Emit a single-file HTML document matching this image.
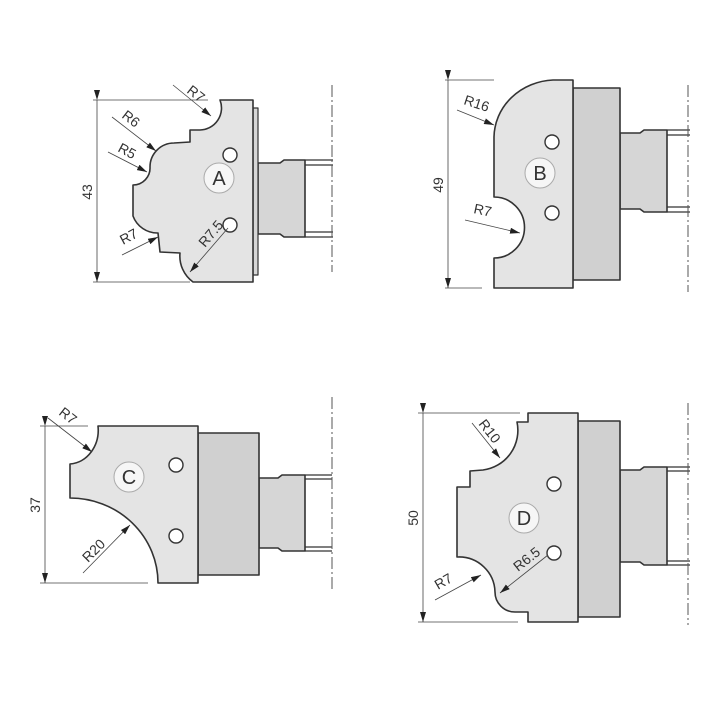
<!DOCTYPE html>
<html><head><meta charset="utf-8"><style>
html,body{margin:0;padding:0;background:#fff;}
svg{display:block;}
text{font-family:"Liberation Sans",sans-serif;font-size:14px;fill:#333;}
</style></head><body>
<svg width="720" height="720" viewBox="0 0 720 720" xmlns="http://www.w3.org/2000/svg">
<defs>
<marker id="ar" markerWidth="10" markerHeight="6" refX="10" refY="3" orient="auto" markerUnits="userSpaceOnUse">
<path d="M0,0 L10,3 L0,6 Z" fill="#222"/></marker>
</defs>
<g stroke="#333" stroke-width="1.6" stroke-linejoin="round">
<!-- A -->
<path d="M258,163 L280,163 L284,160 L305,160 L305,237 L284,237 L280,234 L258,234 Z" fill="#d6d6d6"/>
<rect x="253" y="108" width="5" height="167" fill="#d6d6d6" stroke-width="1.2"/>
<path d="M220,100 L253,100 L253,282 L193,282 A32,32 0 0 1 180,253 L160,252 L158,233 A26,26 0 0 1 133,216 L133,185 A17,17 0 0 0 150,167 A24,24 0 0 1 174,143 L190,142 L190,130 L200,130 A22,22 0 0 0 220,100 Z" fill="#e4e4e4"/>
<!-- B -->
<path d="M620,133 L640,133 L644,130 L667,130 L667,212 L644,212 L640,209 L620,209 Z" fill="#d6d6d6"/>
<rect x="573" y="88" width="47" height="192" fill="#d0d0d0"/>
<path d="M553,80 L573,80 L573,288 L494,288 L494,258 A30,30 0 0 0 494,197 L494,137 A62,58 0 0 1 553,80 Z" fill="#e4e4e4"/>
<!-- C -->
<path d="M259,478 L278,478 L282,475 L305,475 L305,551 L282,551 L278,548 L259,548 Z" fill="#d6d6d6"/>
<rect x="198" y="433" width="61" height="142" fill="#d0d0d0"/>
<path d="M98,426 L198,426 L198,583 L158,583 A88,85 0 0 0 70,498 L70,464 A30,34 0 0 0 98,426 Z" fill="#e4e4e4"/>
<!-- D -->
<path d="M620,470 L640,470 L644,467 L667,467 L667,565 L644,565 L640,562 L620,562 Z" fill="#d6d6d6"/>
<rect x="578" y="421" width="42" height="196" fill="#d0d0d0"/>
<path d="M528,413 L578,413 L578,622 L528,622 L528,612 L515,612 A20,20 0 0 1 495,592 A36,36 0 0 0 458,557 L457,557 L457,487 L470,487 L470,471 L483,470 A40,40 0 0 0 517,422 L528,422 Z" fill="#e4e4e4"/>
</g>
<g stroke="#333" stroke-width="1.3">
<line x1="305" y1="160" x2="333" y2="160"/><line x1="305" y1="165" x2="333" y2="165"/>
<line x1="305" y1="232" x2="333" y2="232"/><line x1="305" y1="237" x2="333" y2="237"/>
<line x1="667" y1="130" x2="690" y2="130"/><line x1="667" y1="135" x2="690" y2="135"/>
<line x1="667" y1="207" x2="690" y2="207"/><line x1="667" y1="212" x2="690" y2="212"/>
<line x1="305" y1="475" x2="332" y2="475"/><line x1="305" y1="479" x2="332" y2="479"/>
<line x1="305" y1="547" x2="332" y2="547"/><line x1="305" y1="551" x2="332" y2="551"/>
<line x1="667" y1="467" x2="690" y2="467"/><line x1="667" y1="471" x2="690" y2="471"/>
<line x1="667" y1="561" x2="690" y2="561"/><line x1="667" y1="565" x2="690" y2="565"/>
</g>
<g stroke="#555" stroke-width="1" stroke-dasharray="12,3,2,3">
<line x1="332" y1="85" x2="332" y2="272"/>
<line x1="688" y1="85" x2="688" y2="292"/>
<line x1="332" y1="397" x2="332" y2="592"/>
<line x1="688" y1="403" x2="688" y2="625"/>
</g>
<g fill="#fff" stroke="#333" stroke-width="1.4">
<circle cx="230" cy="155" r="7"/><circle cx="230" cy="225" r="7"/>
<circle cx="552" cy="142" r="7"/><circle cx="552" cy="213" r="7"/>
<circle cx="176" cy="465" r="7"/><circle cx="176" cy="536" r="7"/>
<circle cx="554" cy="484" r="7"/><circle cx="554" cy="553" r="7"/>
</g>
<g fill="#f6f6f6" stroke="#aaa" stroke-width="1">
<circle cx="219" cy="178" r="15"/><circle cx="540" cy="173" r="15"/>
<circle cx="129" cy="477" r="15"/><circle cx="524" cy="518" r="15"/>
</g>
<g text-anchor="middle">
<text x="219" y="185" style="font-size:20px">A</text>
<text x="540" y="180" style="font-size:20px">B</text>
<text x="129" y="484" style="font-size:20px">C</text>
<text x="524" y="525" style="font-size:20px">D</text>
</g>
<g stroke="#444" stroke-width="0.8" fill="none">
<line x1="93" y1="100" x2="208" y2="100"/><line x1="93" y1="282" x2="190" y2="282"/>
<line x1="97" y1="100" x2="97" y2="282" marker-start="url(#ar)" marker-end="url(#ar)"/>
<line x1="445" y1="80" x2="494" y2="80"/><line x1="445" y1="288" x2="482" y2="288"/>
<line x1="448" y1="80" x2="448" y2="288" marker-start="url(#ar)" marker-end="url(#ar)"/>
<line x1="40" y1="426" x2="88" y2="426"/><line x1="40" y1="583" x2="148" y2="583"/>
<line x1="45" y1="426" x2="45" y2="583" marker-start="url(#ar)" marker-end="url(#ar)"/>
<line x1="418" y1="413" x2="520" y2="413"/><line x1="418" y1="622" x2="518" y2="622"/>
<line x1="423" y1="413" x2="423" y2="622" marker-start="url(#ar)" marker-end="url(#ar)"/>
<line x1="173" y1="85" x2="211" y2="116" marker-end="url(#ar)"/>
<line x1="112" y1="117" x2="156" y2="151" marker-end="url(#ar)"/>
<line x1="108" y1="152" x2="147" y2="172" marker-end="url(#ar)"/>
<line x1="122" y1="255" x2="158" y2="237" marker-end="url(#ar)"/>
<line x1="228" y1="228" x2="190" y2="272" marker-end="url(#ar)"/>
<line x1="457" y1="110" x2="494" y2="125" marker-end="url(#ar)"/>
<line x1="465" y1="220" x2="520" y2="233" marker-end="url(#ar)"/>
<line x1="48" y1="418" x2="92" y2="452" marker-end="url(#ar)"/>
<line x1="83" y1="573" x2="130" y2="525" marker-end="url(#ar)"/>
<line x1="472" y1="423" x2="500" y2="458" marker-end="url(#ar)"/>
<line x1="435" y1="600" x2="481" y2="575" marker-end="url(#ar)"/>
<line x1="548" y1="555" x2="500" y2="593" marker-end="url(#ar)"/>
</g>
<text transform="translate(92,192) rotate(-90)" text-anchor="middle">43</text>
<text transform="translate(443,185) rotate(-90)" text-anchor="middle">49</text>
<text transform="translate(40,505) rotate(-90)" text-anchor="middle">37</text>
<text transform="translate(418,518) rotate(-90)" text-anchor="middle">50</text>
<text transform="translate(186,92) rotate(38)">R7</text>
<text transform="translate(121,117) rotate(38)">R6</text>
<text transform="translate(117,151) rotate(28)">R5</text>
<text transform="translate(123,245) rotate(-28)">R7</text>
<text transform="translate(205,248) rotate(-50)">R7.5</text>
<text transform="translate(463,104) rotate(18)">R16</text>
<text transform="translate(473,213) rotate(12)">R7</text>
<text transform="translate(58,414) rotate(38)">R7</text>
<text transform="translate(88,563) rotate(-45)">R20</text>
<text transform="translate(478,424) rotate(52)">R10</text>
<text transform="translate(438,590) rotate(-30)">R7</text>
<text transform="translate(518,572) rotate(-38)">R6.5</text>
</svg>
</body></html>
